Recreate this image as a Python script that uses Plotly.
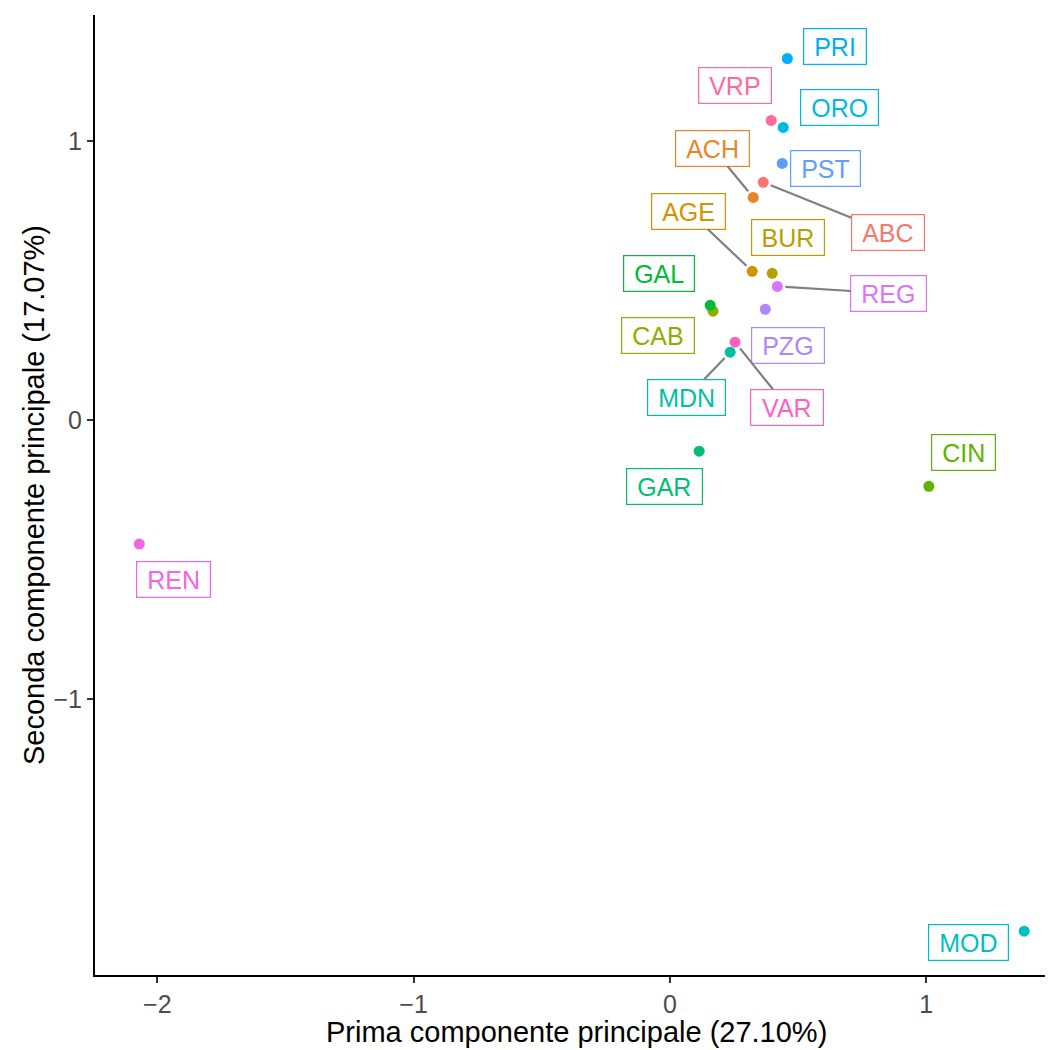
import math
import plotly.graph_objects as go

# Data
codes = ["ABC", "ACH", "AGE", "BUR", "CAB", "CIN", "GAL", "GAR", "MDN",
         "MOD", "ORO", "PRI", "PST", "PZG", "REG", "REN", "VAR", "VRP"]
pc1 = [0.364, 0.325, 0.321, 0.399, 0.168, 1.010, 0.157, 0.114, 0.235,
       1.382, 0.442, 0.458, 0.438, 0.372, 0.419, -2.070, 0.254, 0.395]
pc2 = [0.853, 0.799, 0.534, 0.527, 0.391, -0.237, 0.412, -0.111, 0.244,
       -1.832, 1.050, 1.297, 0.921, 0.398, 0.480, -0.444, 0.280, 1.075]

# Repelled label positions (data units)
lab_x = [0.850, 0.167, 0.074, 0.462, -0.047, 1.147, -0.043, -0.023, 0.066,
         1.163, 0.661, 0.645, 0.606, 0.462, 0.854, -1.937, 0.458, 0.254]
lab_y = [0.674, 0.975, 0.749, 0.656, 0.305, -0.115, 0.527, -0.237, 0.082,
         -1.874, 1.122, 1.341, 0.901, 0.269, 0.455, -0.570, 0.047, 1.201]
has_segment = [True, True, True, False, False, False, False, False, True,
               False, False, False, False, False, True, False, True, False]

x_title = "Prima componente principale (27.10%)"
y_title = "Seconda componente principale (17.07%)"


def hue_hex(h, c=100.0, l=65.0):
    hr = math.radians(h)
    u, v = c * math.cos(hr), c * math.sin(hr)
    Y = ((l + 16) / 116) ** 3
    Xn, Yn, Zn = 0.95047, 1.0, 1.08883
    den = Xn + 15 * Yn + 3 * Zn
    un, vn = 4 * Xn / den, 9 * Yn / den
    up, vp = u / (13 * l) + un, v / (13 * l) + vn
    X = Y * 9 * up / (4 * vp)
    Z = Y * (12 - 3 * up - 20 * vp) / (4 * vp)
    r = 3.2404542 * X - 1.5371385 * Y - 0.4985314 * Z
    g = -0.9692660 * X + 1.8760108 * Y + 0.0415560 * Z
    b = 0.0556434 * X - 0.2040259 * Y + 1.0572252 * Z

    def gam(t):
        t = 12.92 * t if t <= 0.0031308 else 1.055 * t ** (1 / 2.4) - 0.055
        return max(0, min(255, round(t * 255)))
    return "#%02X%02X%02X" % (gam(r), gam(g), gam(b))


# approximate Arial/Helvetica advance widths (em) for sizing label boxes
CHAR_W = {"A": .667, "B": .667, "C": .722, "D": .722, "E": .667, "G": .778,
          "H": .722, "I": .278, "L": .556, "M": .833, "N": .722, "O": .778,
          "P": .667, "R": .722, "S": .667, "T": .611, "V": .667, "Z": .611}

n = len(codes)
colors = [hue_hex(15 + 360 * i / n) for i in range(n)]

fig = go.Figure()
fig.add_trace(go.Scatter(
    x=pc1, y=pc2, mode="markers",
    marker=dict(size=11, color=colors, line=dict(width=0)),
    hoverinfo="text", text=codes, showlegend=False,
))

font_family = "Liberation Sans, Arial, Helvetica, sans-serif"
LAB_SIZE = 25
for i in range(n):
    tw = sum(CHAR_W.get(ch, 0.67) for ch in codes[i]) * LAB_SIZE
    common = dict(
        text=codes[i], font=dict(size=LAB_SIZE, color=colors[i], family=font_family),
        bgcolor="white", bordercolor=colors[i], borderwidth=1.2, borderpad=3,
        width=tw + 14, height=29, align="center", valign="middle",
        xref="x", yref="y",
    )
    if has_segment[i]:
        fig.add_annotation(
            x=pc1[i], y=pc2[i], ax=lab_x[i], ay=lab_y[i], axref="x", ayref="y",
            showarrow=True, arrowhead=0, arrowwidth=2.2, arrowcolor="#7F7F7F",
            standoff=8, **common)
    else:
        fig.add_annotation(x=lab_x[i], y=lab_y[i], showarrow=False, **common)

# x axis title as an annotation so it sits exactly where the reference has it
fig.add_annotation(
    text=x_title, xref="paper", yref="paper", x=0.5, y=0,
    xanchor="center", yanchor="middle", yshift=-57, showarrow=False,
    font=dict(size=29, color="black", family=font_family),
)

axis_common = dict(
    showgrid=False, zeroline=False, showline=True, linecolor="black", linewidth=2,
    ticks="outside", ticklen=6, tickwidth=1.5, tickcolor="#333333",
    tickfont=dict(size=25, color="#4D4D4D", family=font_family),
    mirror=False,
)
fig.update_xaxes(range=[-2.243, 1.51], tickvals=[-2, -1, 0, 1],
                 ticktext=["\u22122", "\u22121", "0", "1"],
                 **axis_common)
fig.update_yaxes(range=[-1.989, 1.453], tickvals=[-1, 0, 1],
                 ticktext=["\u22121", "0", "1"],
                 title=dict(text=y_title,
                            font=dict(size=29, color="black", family=font_family),
                            standoff=0),
                 **axis_common)

fig.update_layout(
    width=1053, height=1050,
    margin=dict(l=87, r=4, t=7, b=83, autoexpand=False),
    plot_bgcolor="white", paper_bgcolor="white",
)

fig.write_html("out.html")
